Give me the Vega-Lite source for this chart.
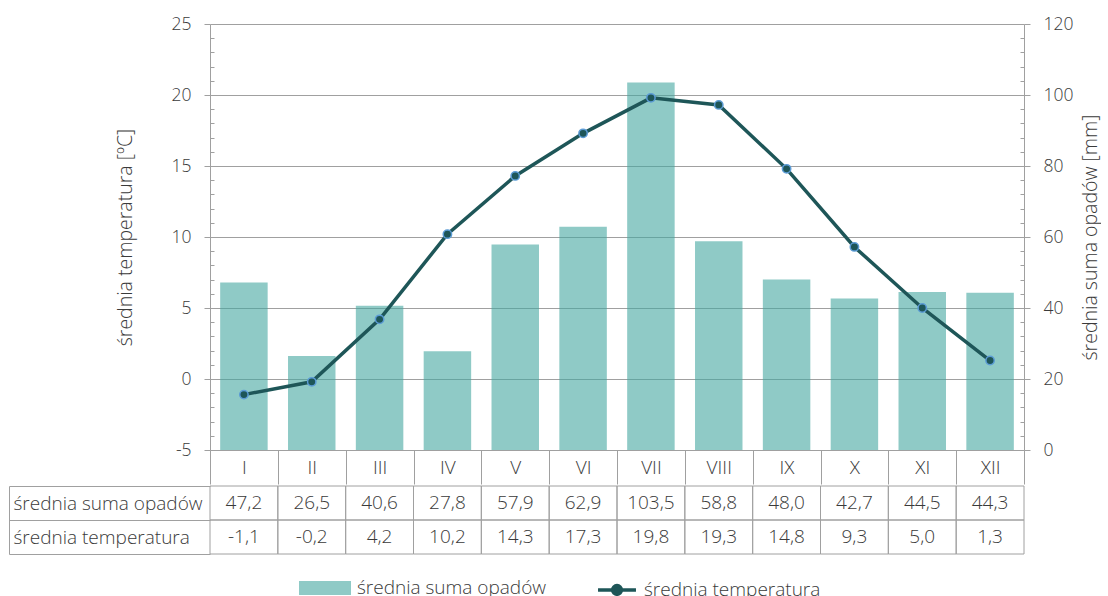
{
  "$schema": "https://vega.github.io/schema/vega-lite/v6.json",
  "padding": {"left": 8, "top": 15, "right": 0, "bottom": 0},
  "config": {
    "locale": {"number": {"decimal": ",", "thousands": " ", "grouping": [3], "currency": ["", " zł"], "minus": "-"}},
    "font": "Open Sans",
    "view": {"stroke": null},
    "axis": {
      "labelFont": "Open Sans", "labelFontWeight": 300, "labelFontSize": 17.5, "labelColor": "#3A3A3A",
      "titleFont": "Open Sans", "titleFontWeight": 300, "titleFontSize": 19.5, "titleColor": "#3A3A3A",
      "domainColor": "#A0A0A0", "tickColor": "#A0A0A0", "gridColor": "#A0A0A0"
    },
    "legend": {
      "labelFont": "Open Sans", "labelFontWeight": 300, "labelFontSize": 19, "labelColor": "#3A3A3A",
      "labelLimit": 260, "title": null, "offset": 7
    },
    "text": {"font": "Open Sans", "fontWeight": 300, "fontSize": 19, "color": "#3A3A3A"}
  },
  "datasets": {
    "klimat": [
      {"miesiac": "I", "opady": 47.2, "temp": -1.1},
      {"miesiac": "II", "opady": 26.5, "temp": -0.2},
      {"miesiac": "III", "opady": 40.6, "temp": 4.2},
      {"miesiac": "IV", "opady": 27.8, "temp": 10.2},
      {"miesiac": "V", "opady": 57.9, "temp": 14.3},
      {"miesiac": "VI", "opady": 62.9, "temp": 17.3},
      {"miesiac": "VII", "opady": 103.5, "temp": 19.8},
      {"miesiac": "VIII", "opady": 58.8, "temp": 19.3},
      {"miesiac": "IX", "opady": 48.0, "temp": 14.8},
      {"miesiac": "X", "opady": 42.7, "temp": 9.3},
      {"miesiac": "XI", "opady": 44.5, "temp": 5.0},
      {"miesiac": "XII", "opady": 44.3, "temp": 1.3}
    ]
  },
  "spacing": 0,
  "vconcat": [
    {
      "width": 814,
      "height": 426,
      "data": {"name": "klimat"},
      "encoding": {
        "x": {
          "field": "miesiac", "type": "ordinal", "sort": null,
          "scale": {"paddingInner": 0, "paddingOuter": 0},
          "axis": {
            "title": null, "labelAngle": 0, "tickBand": "extent", "tickSize": 34,
            "labelPadding": -17, "labelBaseline": "middle", "labelFontSize": 19, "domain": true
          }
        }
      },
      "layer": [
        {
          "mark": {"type": "bar", "width": {"band": 0.7}, "opacity": 0.6},
          "encoding": {
            "y": {
              "field": "opady", "type": "quantitative",
              "scale": {"domain": [0, 120], "nice": false},
              "axis": {
                "orient": "right", "title": "średnia suma opadów [mm]", "titleAngle": 270, "titlePadding": 28,
                "values": [0,4,8,12,16,20,24,28,32,36,40,44,48,52,56,60,64,68,72,76,80,84,88,92,96,100,104,108,112,116,120],
                "labelExpr": "datum.value % 20 === 0 ? datum.label : ''",
                "tickSize": {"condition": {"test": "datum.value % 20 === 0", "value": 6}, "value": -4},
                "labelPadding": 13,
                "grid": false
              }
            },
            "fill": {
              "datum": "średnia suma opadów",
              "scale": {"range": ["#44A7A0"]},
              "legend": {
                "orient": "bottom", "direction": "horizontal", "symbolOffset": 89,
                "symbolType": "M-1,-0.27H1V0.27H-1Z", "symbolSize": 2704, "symbolOpacity": 0.6,
                "symbolStrokeWidth": 0, "labelOffset": 6
              }
            }
          }
        },
        {
          "encoding": {
            "y": {
              "field": "temp", "type": "quantitative",
              "scale": {"domain": [-5, 25], "nice": false},
              "axis": {
                "orient": "left", "title": "średnia temperatura [ºC]", "titlePadding": 36,
                "values": [-5,-4,-3,-2,-1,0,1,2,3,4,5,6,7,8,9,10,11,12,13,14,15,16,17,18,19,20,21,22,23,24,25],
                "labelExpr": "datum.value % 5 === 0 ? datum.label : ''",
                "tickSize": {"condition": {"test": "datum.value % 5 === 0", "value": 6}, "value": -4},
                "labelPadding": 13,
                "grid": true,
                "gridOpacity": {"condition": {"test": "datum.value % 5 === 0", "value": 1}, "value": 0}
              }
            }
          },
          "layer": [
            {
              "mark": {"type": "line", "strokeWidth": 3.5},
              "encoding": {
                "stroke": {
                  "datum": "średnia temperatura",
                  "scale": {"range": ["#1E5658"]},
                  "legend": {
                    "orient": "bottom", "direction": "horizontal", "symbolOffset": 34,
                    "symbolType": "M-0.73,0H-0.17A0.17,0.17,0,1,1,0.17,0H0.73M0.17,0A0.17,0.17,0,1,1,-0.17,0",
                    "symbolSize": 2704, "symbolStrokeWidth": 3.5, "symbolFillColor": "#1E5658", "labelOffset": -1
                  }
                }
              }
            },
            {
              "mark": {"type": "point", "filled": true, "fill": "#1E5658", "stroke": "#5B9BD5", "strokeWidth": 1.5, "size": 70, "opacity": 1}
            }
          ]
        }
      ],
      "resolve": {"scale": {"y": "independent"}}
    },
    {
      "width": 814,
      "height": 68,
      "data": {"name": "klimat"},
      "transform": [{"fold": ["opady", "temp"], "as": ["wiersz", "wartosc"]}],
      "encoding": {
        "x": {
          "field": "miesiac", "type": "ordinal", "sort": null,
          "scale": {"paddingInner": 0, "paddingOuter": 0},
          "axis": null
        },
        "y": {
          "field": "wiersz", "type": "ordinal", "sort": ["opady", "temp"],
          "scale": {"paddingInner": 0, "paddingOuter": 0},
          "axis": {
            "title": null, "orient": "left", "offset": 201, "tickBand": "extent", "tickSize": -201,
            "labelAlign": "left", "labelPadding": 197, "labelLimit": 230,
            "labelFontSize": {"condition": {"test": "datum.value === 'opady' || datum.value === 'temp'", "value": 19}, "value": 0},
            "labelExpr": "datum.value === 'opady' ? 'średnia suma opadów' : datum.value === 'temp' ? 'średnia temperatura' : ''"
          }
        }
      },
      "layer": [
        {"mark": {"type": "rect", "fill": null, "stroke": "#A0A0A0", "strokeWidth": 1}},
        {
          "mark": {"type": "text", "align": "center", "baseline": "middle"},
          "encoding": {"text": {"field": "wartosc", "type": "quantitative", "format": ".1f"}}
        }
      ]
    }
  ]
}
